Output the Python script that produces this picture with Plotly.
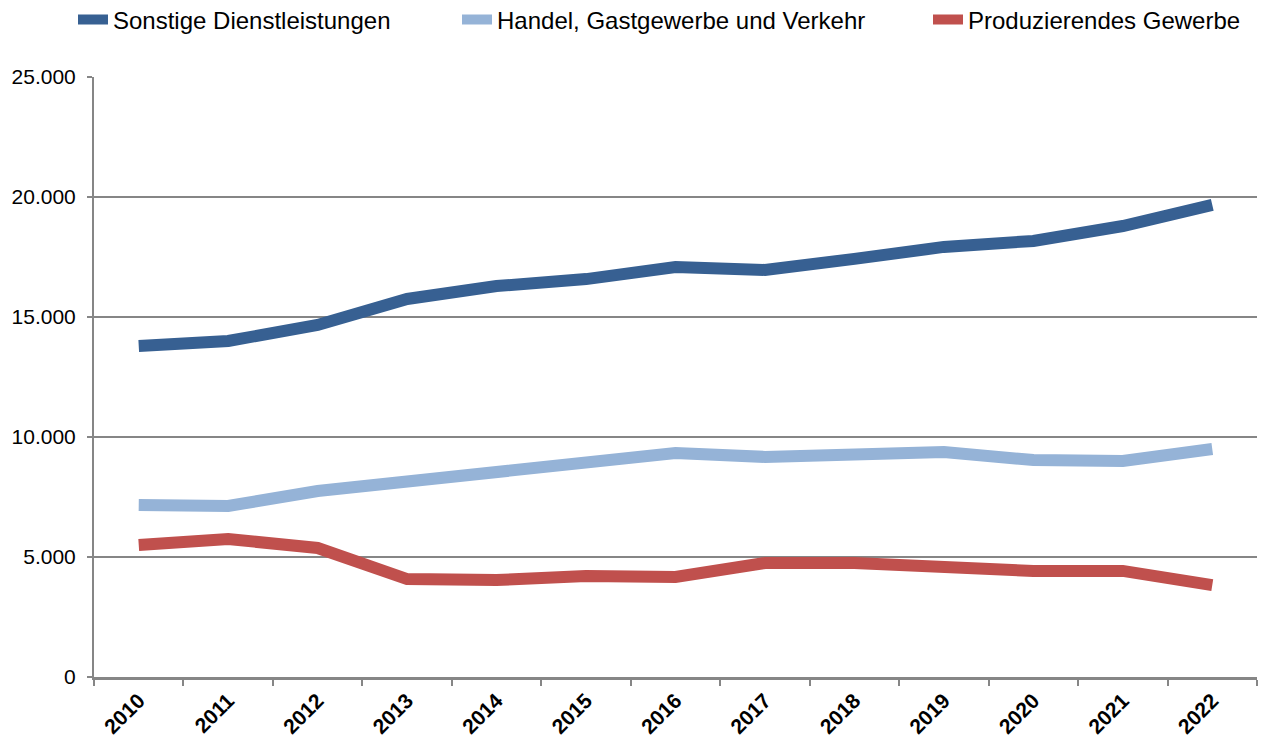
import plotly.graph_objects as go

years = [str(y) for y in range(2010, 2023)]
sonstige = [13790, 14000, 14670, 15750, 16290, 16580, 17080, 16960, 17420, 17920, 18170, 18790, 19670]
handel = [7170, 7125, 7750, 8125, 8540, 8960, 9330, 9170, 9290, 9375, 9040, 9000, 9500]
produz = [5500, 5750, 5375, 4080, 4040, 4210, 4170, 4750, 4750, 4580, 4420, 4420, 3830]

series = [
    ("Sonstige Dienstleistungen", sonstige, "#376092", "legend", 113),
    ("Handel, Gastgewerbe und Verkehr", handel, "#95B3D7", "legend2", 497),
    ("Produzierendes Gewerbe", produz, "#C0504D", "legend3", 968),
]

W, H = 1262, 740
fig = go.Figure()
for name, vals, col, lg, _ in series:
    fig.add_trace(go.Scatter(x=years, y=vals, name=name, mode="lines",
                             line=dict(color=col, width=12), legend=lg))

legend_common = dict(orientation="h", xref="container", yref="container",
                     xanchor="left", y=1 - 20 / H, yanchor="middle",
                     font=dict(size=24), itemwidth=30, bgcolor="rgba(0,0,0,0)")
legends = {}
for name, vals, col, lg, textx in series:
    legends[lg] = dict(legend_common, x=(textx - 40) / W)

fig.update_layout(
    width=W, height=H,
    margin=dict(l=94, r=5, t=77, b=63),
    paper_bgcolor="white", plot_bgcolor="white",
    separators=",.",
    font=dict(family="Liberation Sans, Arial, sans-serif", color="#000000"),
    showlegend=True,
    xaxis=dict(type="category", tickson="boundaries", ticks="outside", ticklen=6,
               tickcolor="#868686", tickwidth=2, showline=True, linecolor="#868686",
               linewidth=3, showgrid=False, tickangle=-45, automargin=False,
               tickfont=dict(size=21, family="Liberation Sans, Arial", weight="bold"),
               range=[-0.5, 12.5]),
    yaxis=dict(range=[0, 25000], dtick=5000, tickformat=",", ticks="outside",
               ticklen=5, tickcolor="#868686", tickwidth=2, showline=True,
               linecolor="#868686", linewidth=2, showgrid=True, gridcolor="#868686",
               gridwidth=2, zeroline=False, tickfont=dict(size=21),
               automargin=False, ticklabelstandoff=7),
    **legends,
)
fig.write_html("out.html", config={"displayModeBar": False},
               post_script="document.body.style.margin='0';")
